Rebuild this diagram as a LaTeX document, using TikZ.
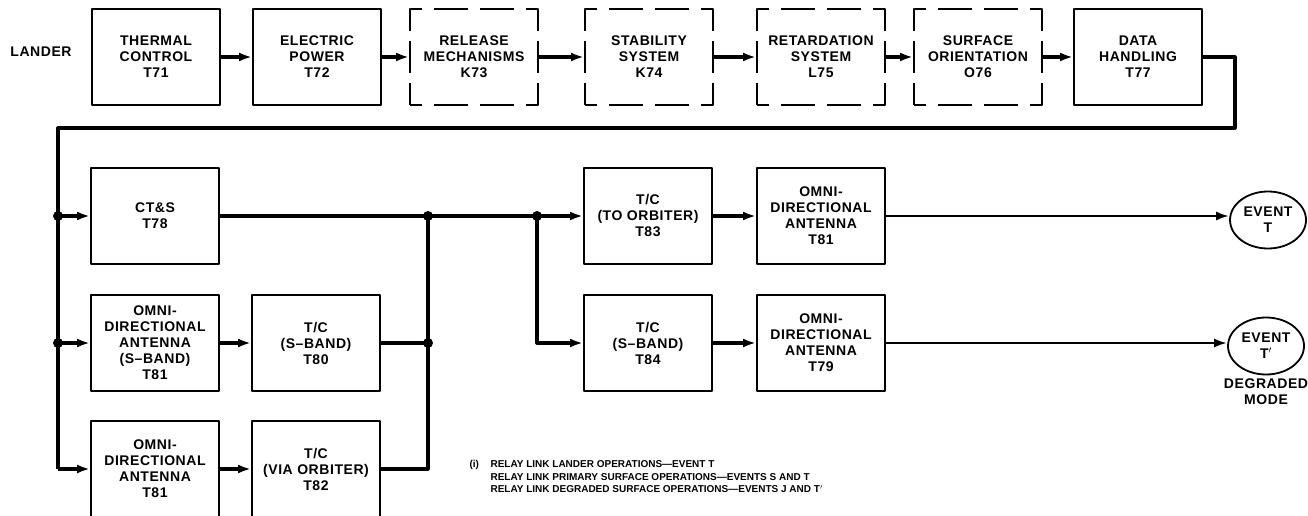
\documentclass[tikz,border=0pt]{standalone}
\usepackage{fontspec}
\setmainfont{Liberation Sans}
\newfontfamily\letterfont[Ligatures=TeX, LetterSpace=4]{Liberation Sans}
\usetikzlibrary{arrows.meta,shapes.geometric}

\newcommand{\boxfont}{\letterfont\bfseries\fontsize{14}{16}\selectfont}
\newcommand{\notefont}{\bfseries\fontsize{10}{12.5}\selectfont}

\begin{document}
\begin{tikzpicture}[x=1pt, y=-1pt, >={Latex[length=13pt,width=9pt]}, line join=round]
  \useasboundingbox (0,0) rectangle (1308,516);

  % styles for blocks, events and lines
  \tikzset{
    blockbox/.style={draw, line width=2pt, minimum width=128pt, minimum height=96pt,
      inner sep=0pt, align=center, font=\boxfont},
    dashbox/.style={blockbox, dash pattern=on 12pt off 12pt on 34pt off 12pt on 34pt off 12pt
      on 34pt off 10pt on 32pt off 10pt on 34pt off 12pt on 34pt off 12pt on 34pt off 12pt
      on 34pt off 10pt on 32pt off 10pt on 22pt},
    eventnode/.style={draw, ellipse, line width=1.8pt, minimum width=76pt, minimum height=57pt,
      inner sep=0pt, align=center, font=\boxfont},
    flow/.style={line width=3.2pt},
    thinflow/.style={line width=2.4pt},
    junction/.style={circle, fill, inner sep=0pt, minimum size=10pt}
  }

  % lander chain
  \node[font=\boxfont] (lander) at (41,52) {LANDER};
  \node[blockbox] (t71) at (156,57) {THERMAL\\CONTROL\\T71};
  \node[blockbox] (t72) at (317,57) {ELECTRIC\\POWER\\T72};
  \node[dashbox] (k73) at (474,57) {RELEASE\\MECHANISMS\\K73};
  \node[dashbox] (k74) at (649,57) {STABILITY\\SYSTEM\\K74};
  \node[dashbox] (l75) at (821,57) {RETARDATION\\SYSTEM\\L75};
  \node[dashbox] (o76) at (978,57) {SURFACE\\ORIENTATION\\O76};
  \node[blockbox] (t77) at (1138,57) {DATA\\HANDLING\\T77};

  % communication blocks
  \node[blockbox] (cts) at (155,216) {CT\&S\\T78};
  \node[blockbox] (omniA) at (155,343) {OMNI-\\DIRECTIONAL\\ANTENNA\\(S--BAND)\\T81};
  \node[blockbox] (omniB) at (155,469) {OMNI-\\DIRECTIONAL\\ANTENNA\\T81};
  \node[blockbox] (t80) at (316,343) {T/C\\(S--BAND)\\T80};
  \node[blockbox] (t82) at (316,469) {T/C\\(VIA ORBITER)\\T82};
  \node[blockbox] (t83) at (648,216) {T/C\\(TO ORBITER)\\T83};
  \node[blockbox] (t84) at (648,343) {T/C\\(S--BAND)\\T84};
  \node[blockbox] (omniC) at (821,216) {OMNI-\\DIRECTIONAL\\ANTENNA\\T81};
  \node[blockbox] (omniD) at (821,343) {OMNI-\\DIRECTIONAL\\ANTENNA\\T79};
  \node[eventnode] (evT) at (1268,220) {EVENT\\T};
  \node[eventnode] (evTd) at (1266,346) {EVENT\\T$'$};
  \node[font=\boxfont, align=center, anchor=north] (degr) at (evTd.south) {DEGRADED\\MODE};

  % bus points
  \coordinate (busTurn) at (1235,128);
  \coordinate (busTop) at (58,128);
  \coordinate (busBot) at (58,469);
  \coordinate (j1) at (58,216);
  \coordinate (j2) at (58,343);
  \coordinate (j3) at (428,216);
  \coordinate (j4) at (428,343);
  \coordinate (j5) at (537,216);

  % top row arrows
  \foreach \a/\b in {t71/t72, t72/k73, k73/k74, k74/l75, l75/o76, o76/t77}
    \draw[flow, ->] (\a) -- (\b);

  % bus from data handling
  \draw[flow] (t77.east) -| (busTurn) -- (busTop) -- (busBot);
  \draw[flow, ->] (busBot) -- (omniB.west);
  \draw[flow, ->] (j1) -- (cts.west);
  \draw[flow, ->] (j2) -- (omniA.west);
  \draw[flow, ->] (omniA) -- (t80);
  \draw[flow, ->] (omniB) -- (t82);

  % outputs joined
  \draw[flow] (cts.east) -- (j3) -- (j5);
  \draw[flow] (t80.east) -- (j4);
  \draw[flow] (t82.east) -| (j3);
  \draw[flow, ->] (j5) -- (t83.west);
  \draw[flow, ->] (j5) |- (t84.west);
  \draw[flow, ->] (t83) -- (omniC);
  \draw[flow, ->] (t84) -- (omniD);
  \draw[thinflow, ->] (omniC.east) -- (omniC.east -| evT.west);
  \draw[thinflow, ->] (omniD.east) -- (omniD.east -| evTd.west);

  % dots
  \foreach \j in {j1, j2, j3, j4, j5}
    \node[junction] at (\j) {};

  % note
  \node[font=\notefont, align=left, anchor=north west] (note) at (466,457)
    {\makebox[21pt][l]{(i)}RELAY LINK LANDER OPERATIONS---EVENT T\\
     \hspace*{21pt}RELAY LINK PRIMARY SURFACE OPERATIONS---EVENTS S AND T\\
     \hspace*{21pt}RELAY LINK DEGRADED SURFACE OPERATIONS---EVENTS J AND T$'$};

\end{tikzpicture}
\end{document}
